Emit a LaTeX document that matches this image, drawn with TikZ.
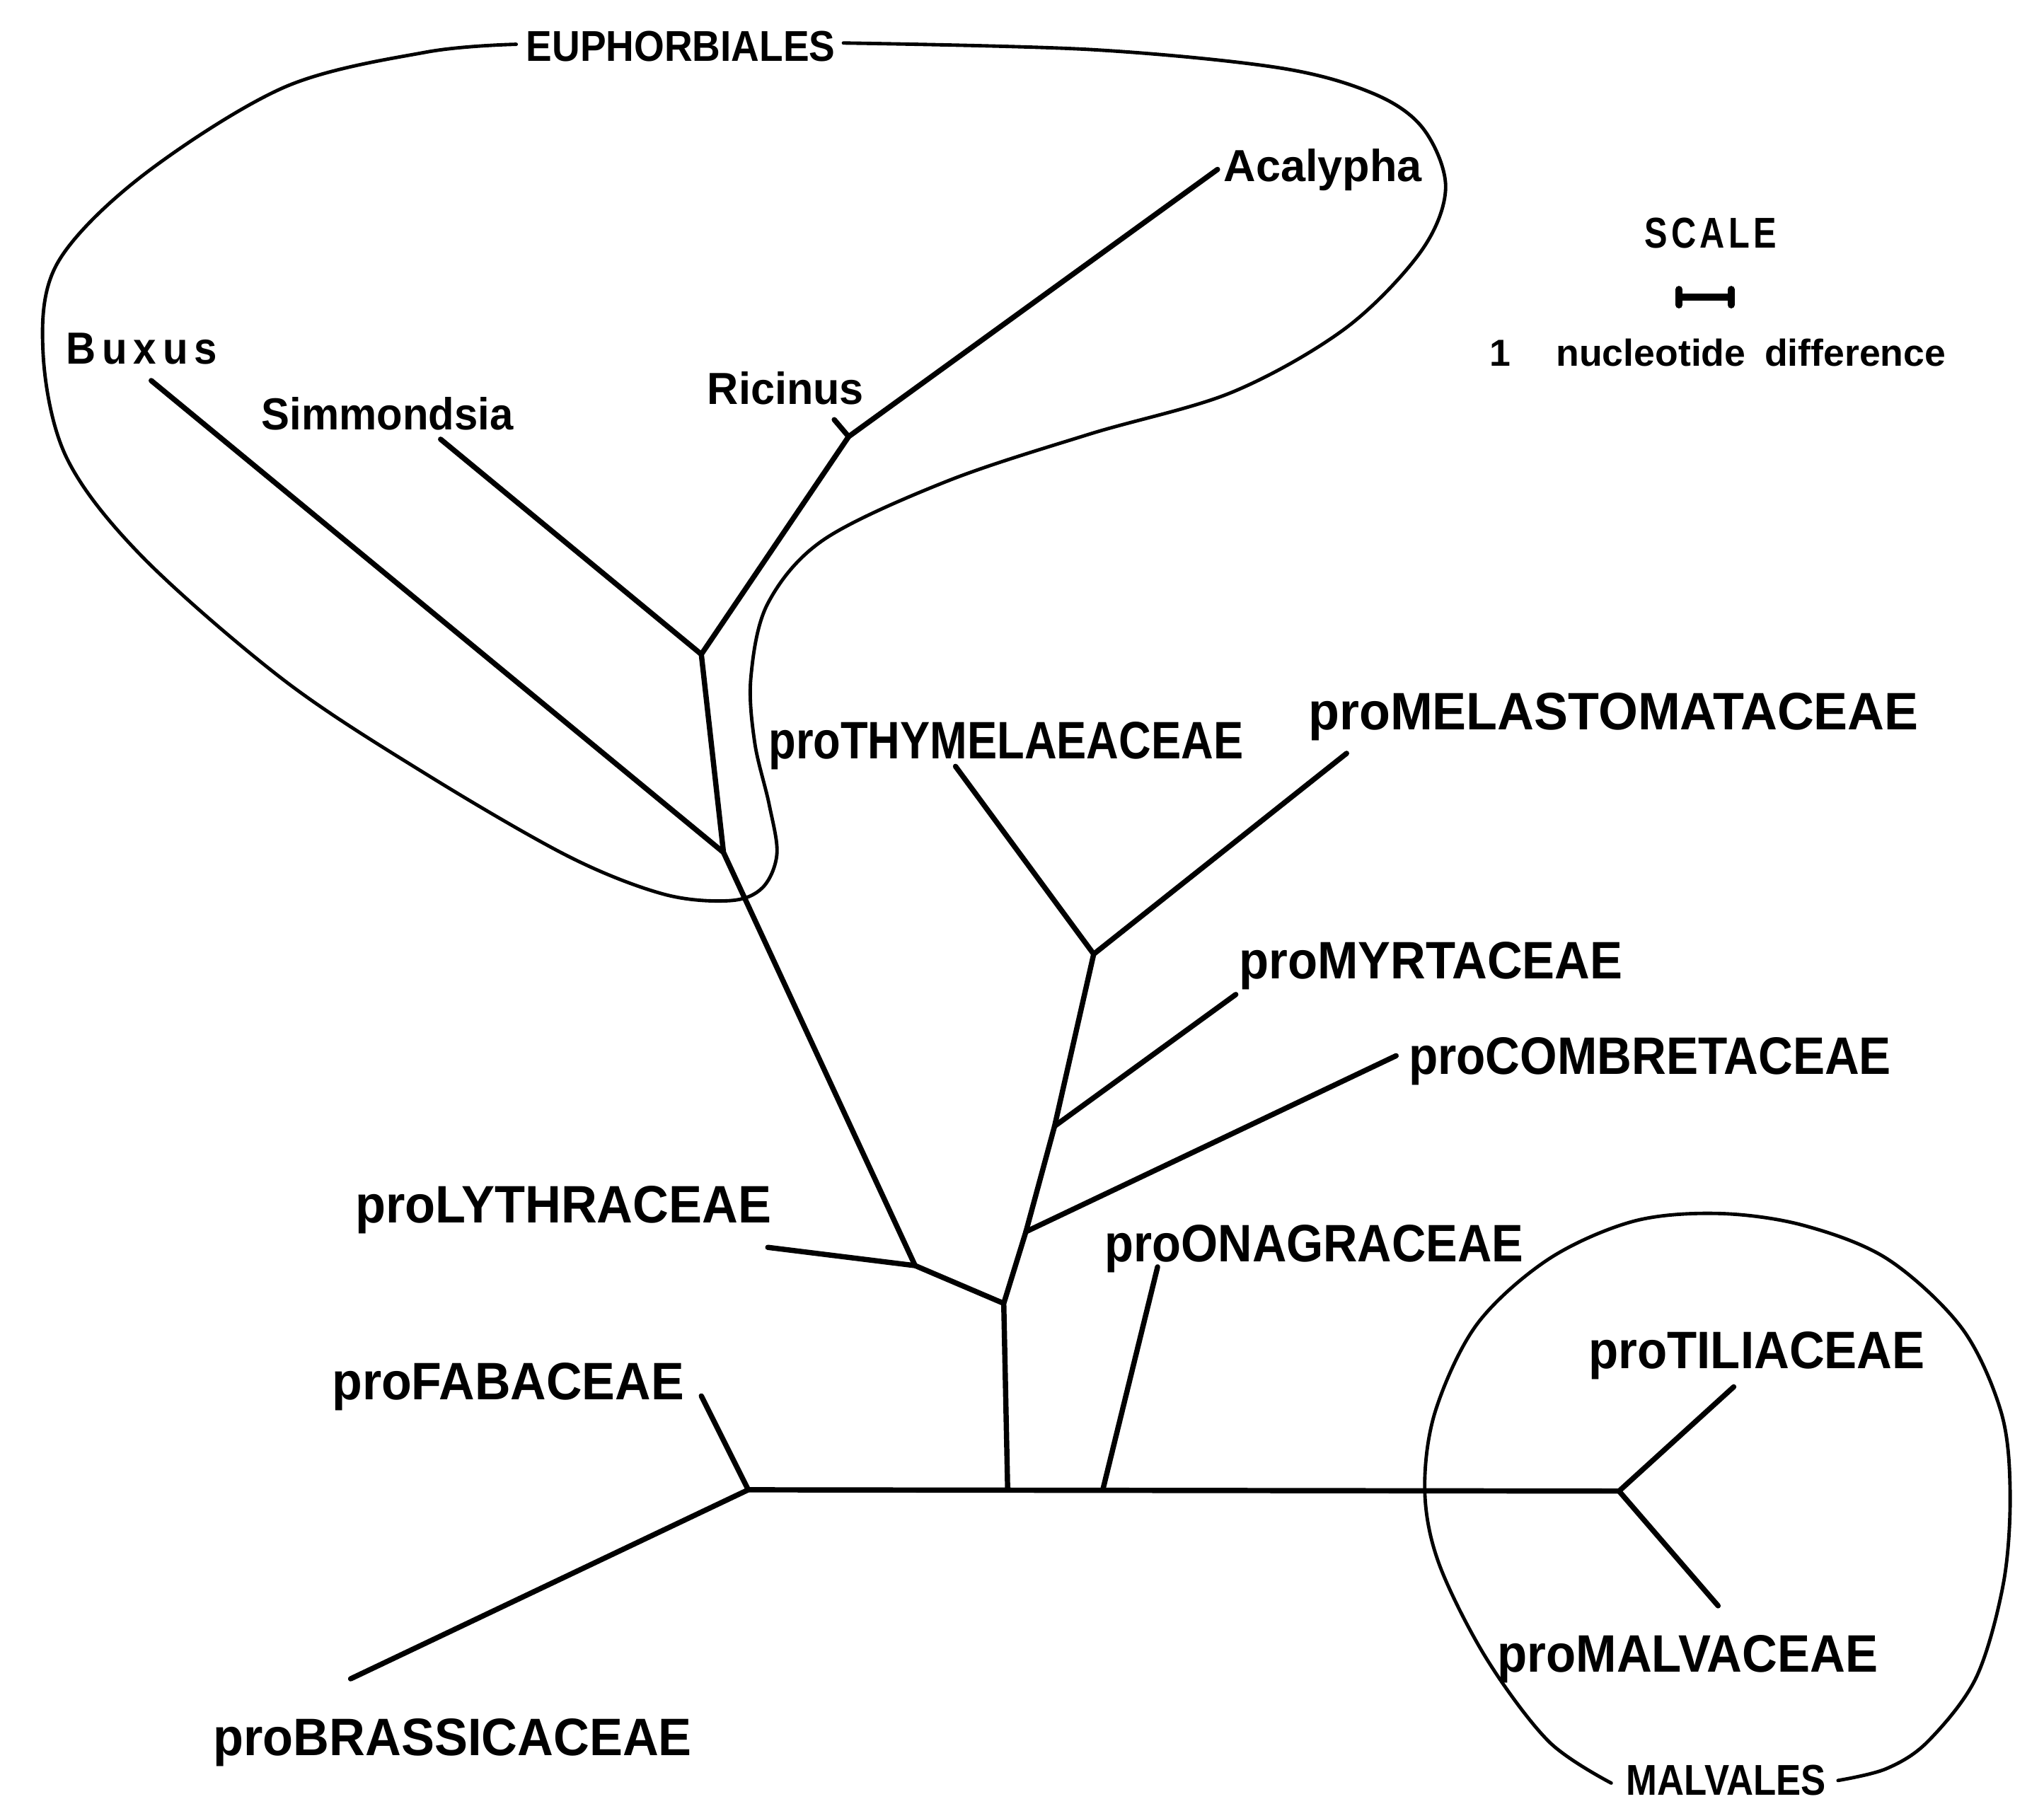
\documentclass[tikz,border=0pt]{standalone}
\usepackage{fontspec}
\setmainfont{Liberation Sans}
\usepackage{graphicx}
\newdimen\ux \ux=0.01cm
\newcommand\fitw[2]{\resizebox{#1\ux}{\height}{#2}}
\newcommand\bigf{\fontsize{11.5}{13}\selectfont\bfseries}
\newcommand\taxf{\fontsize{9.8}{11}\selectfont\bfseries}
\newcommand\smlf{\fontsize{9.4}{11}\selectfont\bfseries}
\tikzset{
  branch/.style={line width=1.15pt, line cap=round, line join=round},
  hull/.style={line width=0.75pt, line cap=round, line join=round},
  lbl/.style={anchor=base west, inner sep=0pt, font=\bigf},
  tax/.style={anchor=base west, inner sep=0pt, font=\taxf},
  grp/.style={anchor=base west, inner sep=0pt, font=\smlf},
  scalebar/.style={line width=1.5pt, line cap=round},
}
\begin{document}
\begin{tikzpicture}[x=0.01cm, y=-0.01cm]
\useasboundingbox (0,0) rectangle (1568,1380);

% ---------- tree coordinates ----------
\coordinate (Bra) at (269,1288);
\coordinate (nFB) at (574,1143);
\coordinate (Fab) at (538,1071);
\coordinate (nT)  at (773,1143);
\coordinate (nO)  at (846,1143);
\coordinate (Ona) at (888,972);
\coordinate (nM)  at (1242,1144);
\coordinate (Til) at (1330,1064);
\coordinate (Mal) at (1318,1232);
\coordinate (n1)  at (770,1000);
\coordinate (nL)  at (702,971);
\coordinate (Lyt) at (589,957);
\coordinate (nE2) at (555,654);
\coordinate (Bux) at (116,292);
\coordinate (nE1) at (538,502);
\coordinate (Sim) at (338,337);
\coordinate (nR)  at (651,335);
\coordinate (Ric) at (640,322);
\coordinate (Aca) at (934,130);
\coordinate (nC)  at (787,945);
\coordinate (Com) at (1071,810);
\coordinate (nMy) at (809,864);
\coordinate (Myr) at (948,763);
\coordinate (nTM) at (839,732);
\coordinate (Thy) at (733,588);
\coordinate (Mel) at (1033,578);

% ---------- branches ----------
\draw[branch] (Bra) -- (nFB) -- (nM);
\draw[branch] (Fab) -- (nFB);
\draw[branch] (nT) -- (n1) -- (nC) -- (nMy) -- (nTM) -- (Mel);
\draw[branch] (nTM) -- (Thy);
\draw[branch] (nMy) -- (Myr);
\draw[branch] (nC) -- (Com);
\draw[branch] (nO) -- (Ona);
\draw[branch] (nM) -- (Til);
\draw[branch] (nM) -- (Mal);
\draw[branch] (n1) -- (nL) -- (nE2) -- (nE1) -- (nR) -- (Aca);
\draw[branch] (nL) -- (Lyt);
\draw[branch] (nE2) -- (Bux);
\draw[branch] (nE1) -- (Sim);
\draw[branch] (nR) -- (Ric);

% ---------- labels ----------
\node[lbl] (tMel) at (1003,560) {\fitw{468}{proMELASTOMATACEAE}};
\node[lbl] (tThy) at (589,582)  {\fitw{364}{proTHYMELAEACEAE}};
\node[lbl] (tMyr) at (950,751)  {\fitw{294}{proMYRTACEAE}};
\node[lbl] (tCom) at (1080,824) {\fitw{370}{proCOMBRETACEAE}};
\node[lbl] (tLyt) at (272,938)  {\fitw{319}{proLYTHRACEAE}};
\node[lbl] (tOna) at (847,968)  {\fitw{321}{proONAGRACEAE}};
\node[lbl] (tFab) at (254,1074) {\fitw{270}{proFABACEAE}};
\node[lbl] (tTil) at (1218,1050){\fitw{258}{proTILIACEAE}};
\node[lbl] (tMal) at (1148,1283){\fitw{292}{proMALVACEAE}};
\node[lbl] (tBra) at (163,1347) {\fitw{367}{proBRASSICACEAE}};

\node[tax] (tBux) at (50,279)   {\fitw{116}{B\kern1.5pt u\kern1.5pt x\kern1.5pt u\kern1.5pt s}};
\node[tax] (tSim) at (200,330)  {\fitw{193}{Simmondsia}};
\node[tax] (tRic) at (542,310)  {\fitw{120}{Ricinus}};
\node[tax] (tAca) at (938,139)  {\fitw{152}{Acalypha}};

\node[grp] (tEup) at (403,47)   {\fitw{237}{EUPHORBIALES}};
\node[grp] (tMvl) at (1247,1377){\fitw{153}{MALVALES}};
\node[grp] (tSca) at (1261,190) {\fitw{101}{S\kern1pt C\kern1pt A\kern1pt L\kern1pt E}};
\node[grp, font=\fontsize{8.2}{10}\selectfont\bfseries] (tNuc) at (1142,281)
  {\fitw{350}{1\hspace{1.2em}nucleotide\hspace{0.5em}difference}};

% ---------- scale bar ----------
\coordinate (sbL) at (1288,228);
\coordinate (sbR) at (1328,228);
\coordinate (sbLt) at (1288,222);
\coordinate (sbLb) at (1288,234);
\coordinate (sbRt) at (1328,222);
\coordinate (sbRb) at (1328,234);
\draw[scalebar] (sbL) -- (sbR);
\draw[scalebar] (sbLt) -- (sbLb);
\draw[scalebar] (sbRt) -- (sbRb);

% ---------- Euphorbiales outline ----------
\draw[hull] plot[smooth, tension=0.55] coordinates {
  (396,34) (327,40) (218,67) (109,135) (44,202) (33,270) (51,351)
  (109,427) (218,522) (327,594) (436,657) (509,686) (560,691)
  (585,681) (596,655) (590,617) (579,570) (576,520) (589,463)
  (632,414) (727,369) (836,333) (945,301) (1032,252) (1090,193)
  (1109,144) (1092,99) (1054,72) (981,52) (836,38) (647,33)};

% ---------- Malvales outline ----------
\draw[hull] plot[smooth, tension=0.55] coordinates {
  (1236,1368) (1188,1336) (1140,1272) (1104,1200) (1093,1144)
  (1101,1083) (1133,1016) (1188,966) (1253,937) (1318,931)
  (1383,940) (1448,966) (1505,1019) (1535,1083) (1542,1144)
  (1537,1214) (1516,1287) (1479,1336) (1447,1357) (1410,1366)};
\end{tikzpicture}
\end{document}
